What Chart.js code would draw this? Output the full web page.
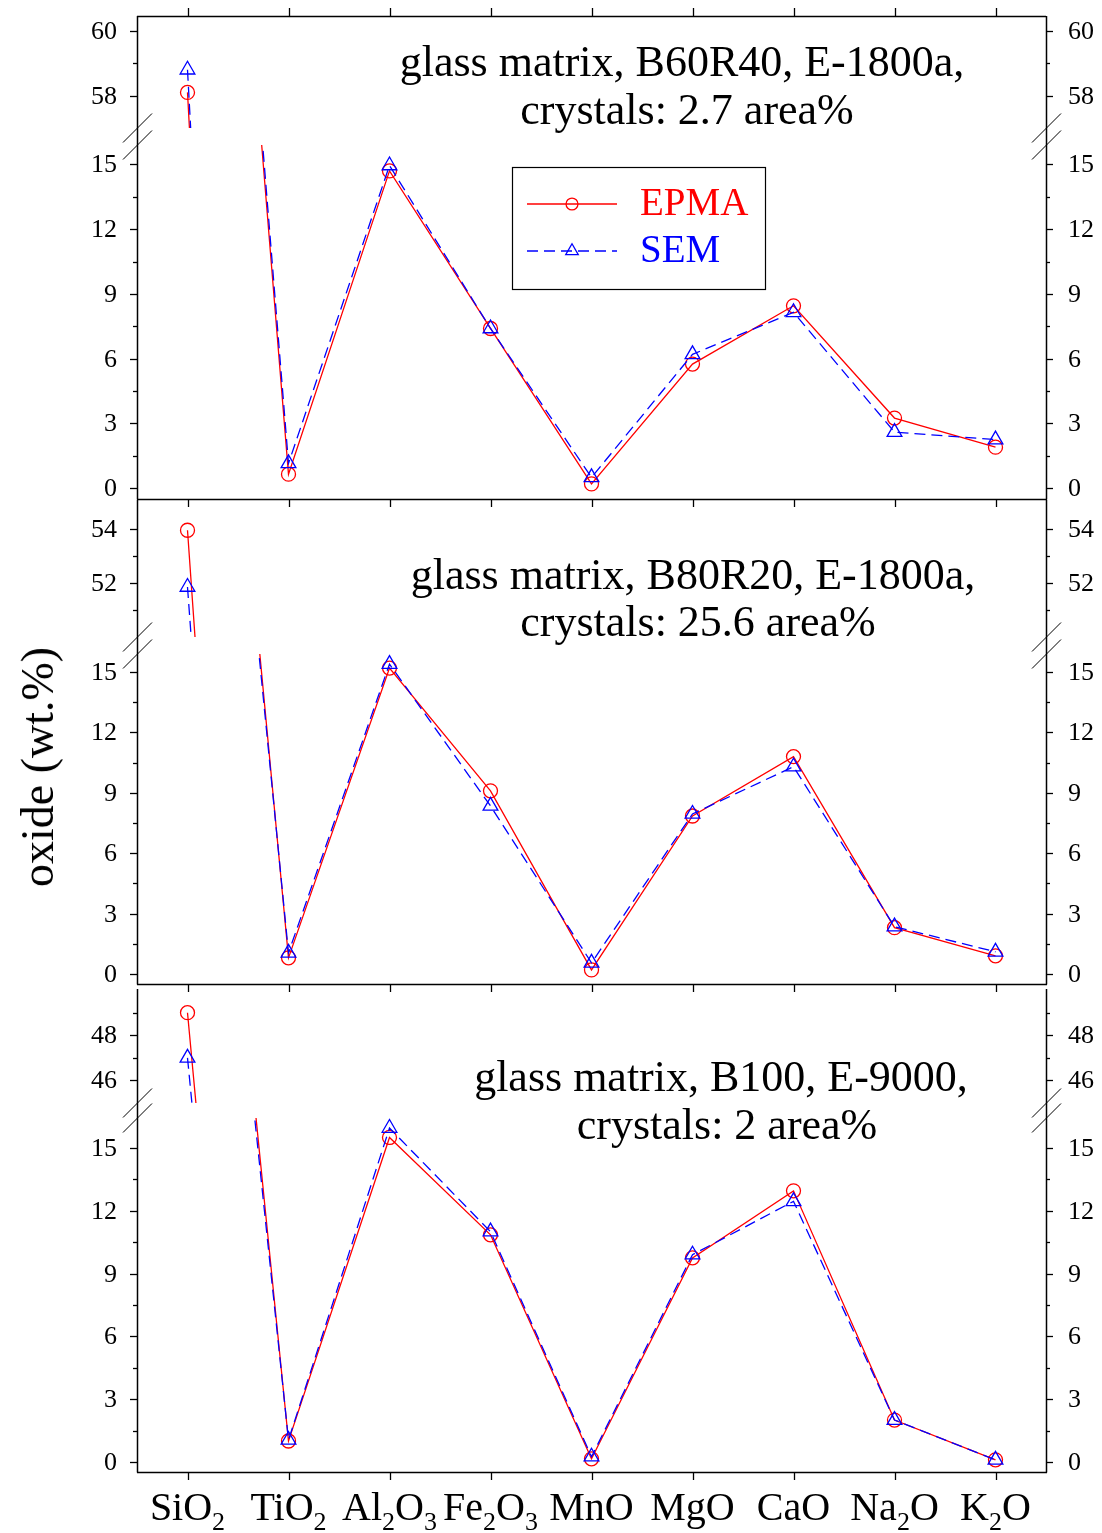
<!DOCTYPE html>
<html>
<head>
<meta charset="utf-8">
<script src="https://cdn.jsdelivr.net/npm/chart.js@4.4.1/dist/chart.umd.min.js"></script>
<style>
  body { margin: 0; background: #fff; }
  #wrap { position: relative; width: 1102px; height: 1533px; overflow: hidden; }
  #wrap canvas { position: absolute; left: 0; top: 0; }
  .note { position: absolute; font-family: "Liberation Serif", serif; font-size: 44px; line-height: 44px;
          white-space: nowrap; transform: translateX(-50%); color: #000; }
  #ytitle { position: absolute; left: 38px; top: 767px; font-family: "Liberation Serif", serif; font-size: 46px;
            line-height: 46px; white-space: nowrap; transform: translate(-50%, -50%) rotate(-90deg); }
</style>
</head>
<body>
<div id="wrap">
  <div id="ytitle">oxide (wt.%)</div>
</div>
<script>
// categories
const oxides = ['SiO2', 'TiO2', 'Al2O3', 'Fe2O3', 'MnO', 'MgO', 'CaO', 'Na2O', 'K2O'];

// wt.%, one pair of series per panel
const epmaB60R40 = [58.1, 0.65, 14.7, 7.4, 0.2, 5.75, 8.45, 3.25, 1.9];
const semB60R40  = [58.8, 1.15, 14.95, 7.4, 0.5, 6.2, 8.15, 2.6, 2.25];
const epmaB80R20 = [53.95, 0.8, 15.2, 9.1, 0.2, 7.85, 10.8, 2.3, 0.9];
const semB80R20  = [51.85, 1.05, 15.4, 8.35, 0.55, 7.95, 10.3, 2.35, 1.1];
const epmaB100   = [49.0, 1.0, 15.5, 10.85, 0.15, 9.75, 12.95, 2.0, 0.1];
const semB100    = [47.0, 1.05, 15.95, 11.0, 0.25, 9.9, 12.45, 2.0, 0.1];

const epmaSets = [epmaB60R40, epmaB80R20, epmaB100];
const semSets = [semB60R40, semB80R20, semB100];

const panelText = [
  ['glass matrix, B60R40, E-1800a,', 'crystals: 2.7 area%'],
  ['glass matrix, B80R20, E-1800a,', 'crystals: 25.6 area%'],
  ['glass matrix, B100, E-9000,', 'crystals: 2 area%']
];

// tick labels (upper part of each broken axis / lower part)
const upperMajor = [[58, 60], [52, 54], [46, 48]];
const upperMinor = [[59], [51, 53], [47, 49]];
const lowerMajor = [0, 3, 6, 9, 12, 15];
const lowerMinor = [1.5, 4.5, 7.5, 10.5, 13.5];

// axis ranges
const upperRange = [[57, 60.46], [50, 55.07], [45, 50.05]];
const lowerRange = [[-0.5, 15.9], [-0.5, 15.9], [-0.48, 16.43]];

const W = 1102, H = 1533, LEFT = 137, RIGHT = 1046;
const panels = [
  {top: 16, upBottom: 128, lowTop: 145, bottom: 499},
  {top: 500, upBottom: 637, lowTop: 654, bottom: 984},
  {top: 989, upBottom: 1103, lowTop: 1118, bottom: 1472}
];
const notePos = [
  [[682, 40], [687, 88]],
  [[693, 553], [698, 600]],
  [[721, 1055], [727, 1103]]
];

const SERIF = '"Liberation Serif", serif';
const wrap = document.getElementById('wrap');

function line(ctx, x1, y1, x2, y2) {
  ctx.beginPath();
  ctx.moveTo(x1, y1);
  ctx.lineTo(x2, y2);
  ctx.stroke();
}

function yTicks(ctx, scale, major, minor) {
  ctx.font = '26px ' + SERIF;
  ctx.textBaseline = 'middle';
  major.forEach(v => {
    const py = Math.round(scale.getPixelForValue(v)) + 0.5;
    line(ctx, LEFT - 7, py, LEFT, py);
    line(ctx, RIGHT, py, RIGHT + 7, py);
    ctx.textAlign = 'right';
    ctx.fillText(String(v), LEFT - 20, py + 1);
    ctx.textAlign = 'left';
    ctx.fillText(String(v), RIGHT + 22, py + 1);
  });
  minor.forEach(v => {
    const py = Math.round(scale.getPixelForValue(v)) + 0.5;
    line(ctx, LEFT - 4, py, LEFT, py);
    line(ctx, RIGHT, py, RIGHT + 4, py);
  });
}

function chemLabel(ctx, text, cx, baseY) {
  const parts = text.split(/(\d+)/).filter(s => s);
  const fontOf = s => /\d/.test(s) ? '26px ' + SERIF : '40px ' + SERIF;
  let w = 0;
  parts.forEach(s => { ctx.font = fontOf(s); w += ctx.measureText(s).width; });
  let xx = cx - w / 2;
  ctx.textAlign = 'left';
  ctx.textBaseline = 'alphabetic';
  parts.forEach(s => {
    ctx.font = fontOf(s);
    ctx.fillText(s, xx, /\d/.test(s) ? baseY + 10 : baseY);
    xx += ctx.measureText(s).width;
  });
}

function drawLegend(ctx, datasets) {
  ctx.lineWidth = 1.2;
  ctx.strokeStyle = '#000';
  ctx.strokeRect(512.5, 167.5, 253, 122);
  const rows = [204, 251];
  datasets.forEach((ds, k) => {
    const y = rows[k];
    ctx.strokeStyle = ds.borderColor;
    ctx.lineWidth = ds.borderWidth;
    ctx.setLineDash(ds.borderDash || []);
    line(ctx, 527, y, 617, y);
    ctx.setLineDash([]);
    ctx.fillStyle = 'rgba(0,0,0,0)';
    Chart.helpers.drawPoint(ctx, {pointStyle: ds.pointStyle, radius: ds.pointRadius * 0.85,
      borderWidth: ds.pointBorderWidth, rotation: 0}, 572, y);
    ctx.fillStyle = ds.borderColor;
    ctx.font = '39px ' + SERIF;
    ctx.textAlign = 'left';
    ctx.textBaseline = 'middle';
    ctx.fillText(ds.label, 640, y + 1);
  });
}

function framePlugin(i, part) {
  const p = panels[i];
  return {
    id: 'frame',
    afterDraw(chart) {
      const ctx = chart.ctx;
      const xs = chart.scales.x, ys = chart.scales.y;
      ctx.save();
      ctx.strokeStyle = '#000';
      ctx.fillStyle = '#000';
      ctx.lineWidth = 1.3;
      if (part === 'upper') {
        yTicks(ctx, ys, upperMajor[i], upperMinor[i]);
        if (i === 0) {
          ctx.lineWidth = 1.5;
          line(ctx, LEFT, p.top + 0.5, RIGHT, p.top + 0.5);
          ctx.lineWidth = 1.3;
          oxides.forEach((o, k) => {
            const px = Math.round(xs.getPixelForValue(k)) + 0.5;
            line(ctx, px, p.top - 8, px, p.top);
          });
        }
      } else {
        yTicks(ctx, ys, lowerMajor, lowerMinor);
        ctx.lineWidth = 1.5;
        line(ctx, LEFT + 0.5, p.top, LEFT + 0.5, p.bottom + 0.5);
        line(ctx, RIGHT + 0.5, p.top, RIGHT + 0.5, p.bottom + 0.5);
        line(ctx, LEFT, p.bottom + 0.5, RIGHT + 1, p.bottom + 0.5);
        ctx.lineWidth = 1.3;
        oxides.forEach((o, k) => {
          const px = Math.round(xs.getPixelForValue(k)) + 0.5;
          line(ctx, px, p.bottom, px, p.bottom + 8);
        });
        // axis break marks
        ctx.lineWidth = 1;
        [LEFT + 0.5, RIGHT + 0.5].forEach(ax => {
          [p.upBottom, p.lowTop].forEach(by => {
            line(ctx, ax - 14.5, by + 14.5, ax + 14.5, by - 14.5);
          });
        });
        ctx.fillStyle = '#000';
        if (i === 2) {
          oxides.forEach((o, k) => chemLabel(ctx, o, xs.getPixelForValue(k), 1520));
        }
        if (i === 0) drawLegend(ctx, chart.data.datasets);
      }
      ctx.restore();
    }
  };
}

panels.forEach((p, i) => {
  ['upper', 'lower'].forEach(part => {
    const canvas = document.createElement('canvas');
    canvas.width = W;
    canvas.height = H;
    wrap.insertBefore(canvas, wrap.firstChild);
    const top = part === 'upper' ? p.top : p.lowTop;
    const bottom = part === 'upper' ? p.upBottom : p.bottom;
    const range = part === 'upper' ? upperRange[i] : lowerRange[i];
    new Chart(canvas, {
      type: 'line',
      data: {
        labels: oxides,
        datasets: [{
          label: 'EPMA',
          data: epmaSets[i],
          borderColor: '#ff0000',
          borderWidth: 1.3,
          pointStyle: 'circle',
          pointRadius: 7,
          pointBorderColor: '#ff0000',
          pointBackgroundColor: 'rgba(0,0,0,0)',
          pointBorderWidth: 1.3,
          tension: 0,
          order: 1
        }, {
          label: 'SEM',
          data: semSets[i],
          borderColor: '#0000ff',
          borderWidth: 1.3,
          borderDash: [11, 6],
          pointStyle: 'triangle',
          pointRadius: 8.5,
          pointBorderColor: '#0000ff',
          pointBackgroundColor: 'rgba(0,0,0,0)',
          pointBorderWidth: 1.3,
          tension: 0,
          order: 0
        }]
      },
      options: {
        responsive: false,
        animation: false,
        events: [],
        layout: {padding: {left: LEFT, right: W - RIGHT, top: top, bottom: H - bottom}},
        scales: {
          x: {type: 'category', offset: true, display: false},
          y: {type: 'linear', min: range[0], max: range[1], display: false}
        },
        plugins: {legend: {display: false}, tooltip: {enabled: false}}
      },
      plugins: [framePlugin(i, part)]
    });
  });

  panelText[i].forEach((t, k) => {
    const d = document.createElement('div');
    d.className = 'note';
    d.textContent = t;
    d.style.left = notePos[i][k][0] + 'px';
    d.style.top = notePos[i][k][1] + 'px';
    wrap.appendChild(d);
  });
});
</script>
</body>
</html>
